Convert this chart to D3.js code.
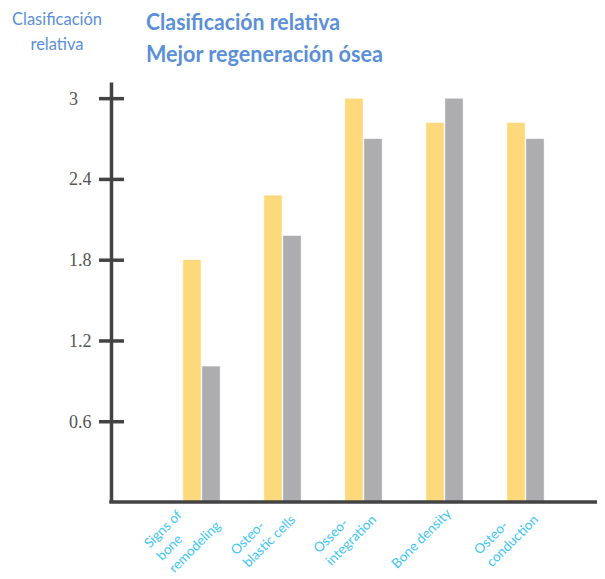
<!DOCTYPE html>
<html>
<head>
<meta charset="utf-8">
<script src="https://cdn.jsdelivr.net/npm/d3@7.9.0/dist/d3.min.js"></script>
<style>
  body { margin: 0; background: #fff; }
  svg { display: block; }
</style>
</head>
<body>
<div id="chart"></div>
<script>
// categories and their wrapped labels
const categories = ['remodeling', 'osteoblastic', 'osseointegration', 'density', 'osteoconduction'];
const categoryLabels = [
  ['Signs of', 'bone', 'remodeling'],
  ['Osteo-', 'blastic cells'],
  ['Osseo-', 'integration'],
  ['Bone density'],
  ['Osteo-', 'conduction'],
];
const seriesKeys = ['yellow', 'gray'];
const yellowValues = [1.8, 2.28, 3.0, 2.82, 2.82];
const grayValues = [1.01, 1.98, 2.7, 3.0, 2.7];
const yTicks = [0.6, 1.2, 1.8, 2.4, 3];
const yMax = 3.12;

const titleLines = ['Clasificación relativa', 'Mejor regeneración ósea'];
const yLabelLines = ['Clasificación', 'relativa'];

const width = 605;
const height = 579;
const colors = { yellow: '#fdd97c', gray: '#adadb0' };
const axisColor = '#434343';
const labelBlue = '#5b8fd8';

const rows = categories.map((c, i) => ({
  key: c,
  label: categoryLabels[i],
  yellow: yellowValues[i],
  gray: grayValues[i],
}));

const svg = d3
  .select('#chart')
  .append('svg')
  .attr('width', width)
  .attr('height', height);

const x0 = d3.scaleBand().domain(categories).range([161, 566]).paddingInner(0.54).paddingOuter(0.27);
const x1 = d3.scaleBand().domain(seriesKeys).range([0, x0.bandwidth()]).paddingInner(0.04);
const y = d3.scaleLinear().domain([0, yMax]).range([502, 82]);

const axisX = 111;

// bars
svg
  .append('g')
  .selectAll('g')
  .data(rows)
  .join('g')
  .attr('transform', (d) => `translate(${x0(d.key)},0)`)
  .selectAll('rect')
  .data((d) => seriesKeys.map((k) => ({ key: k, value: d[k] })))
  .join('rect')
  .attr('x', (d) => x1(d.key))
  .attr('y', (d) => y(d.value))
  .attr('width', x1.bandwidth())
  .attr('height', (d) => y(0) - y(d.value))
  .attr('fill', (d) => colors[d.key])
  .attr('stroke', '#fff')
  .attr('stroke-width', 0.6);

// y axis
const yAxis = svg
  .append('g')
  .attr('transform', `translate(${axisX},0)`)
  .call(d3.axisLeft(y).tickValues(yTicks).tickFormat(d3.format('')).tickSizeOuter(0));

yAxis.select('.domain').attr('stroke', axisColor).attr('stroke-width', 3.5);
yAxis.selectAll('.tick line')
  .attr('x1', -12)
  .attr('x2', 13)
  .attr('stroke', axisColor)
  .attr('stroke-width', 3.5);
yAxis.selectAll('.tick text')
  .attr('x', -42)
  .attr('dy', '0.33em')
  .attr('text-anchor', 'start')
  .attr('fill', '#555')
  .style('font-family', '"Liberation Serif", "DejaVu Serif", serif')
  .style('font-size', '18px');

// x axis line
svg
  .append('line')
  .attr('x1', axisX - 1.75)
  .attr('x2', 597)
  .attr('y1', y(0))
  .attr('y2', y(0))
  .attr('stroke', axisColor)
  .attr('stroke-width', 3.5);

// rotated category labels
const lineHeight = 17.5;
const labelGroups = svg
  .append('g')
  .selectAll('g')
  .data(rows)
  .join('g')
  .attr('transform', (d) => `translate(${x0(d.key) + x0.bandwidth() / 2 + 4},511) rotate(-45)`)
  .style('font-family', 'Lato, "Open Sans", sans-serif')
  .style('font-size', '13.5px')
  .attr('fill', '#3cc6f5');

labelGroups.each(function (d) {
  const g = d3.select(this);
  const n = d.label.length;
  const texts = g
    .selectAll('text')
    .data(d.label)
    .join('text')
    .attr('y', (_, i) => (i - (n - 1) / 2) * lineHeight)
    .attr('dy', '0.35em')
    .text((t) => t);
  const maxW = d3.max(texts.nodes(), (node) => node.getComputedTextLength());
  texts.attr('x', -maxW);
});

// fit text to the width
function fitText(sel, target) {
  const w = sel.node().getComputedTextLength();
  if (Math.abs(w - target) > 2) {
    sel.attr('textLength', target).attr('lengthAdjust', 'spacingAndGlyphs');
  }
}

// title
const title = svg
  .append('g')
  .style('font-family', 'Lato, "Open Sans", sans-serif')
  .style('font-weight', 700)
  .style('font-size', '22.5px')
  .attr('fill', labelBlue);
const titleWidths = [194, 237];
titleLines.forEach((t, i) => {
  const el = title.append('text').attr('x', 146).attr('y', 30 + i * 32).text(t);
  fitText(el, titleWidths[i]);
});

// y axis title
const yTitle = svg
  .append('g')
  .style('font-family', 'Lato, "Open Sans", sans-serif')
  .style('font-size', '18px')
  .attr('fill', labelBlue)
  .attr('text-anchor', 'middle');
const yTitleWidths = [90, 53];
yLabelLines.forEach((t, i) => {
  const el = yTitle.append('text').attr('x', 57).attr('y', 25 + i * 25).text(t);
  fitText(el, yTitleWidths[i]);
});
</script>
</body>
</html>
